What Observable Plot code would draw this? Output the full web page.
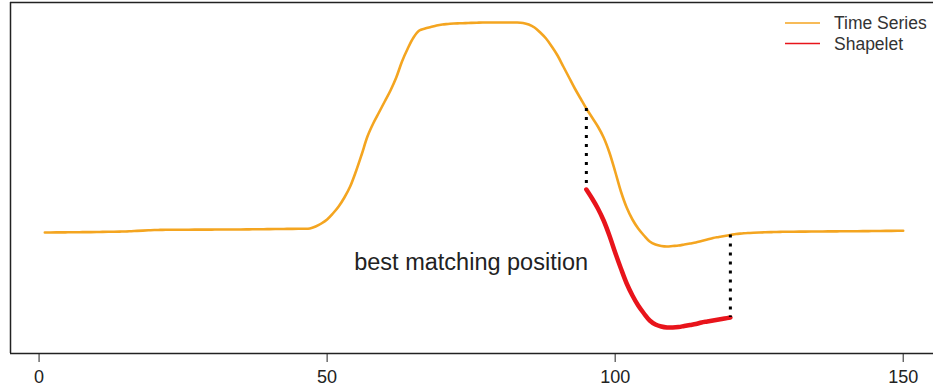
<!DOCTYPE html>
<html><head><meta charset="utf-8">
<script src="https://cdn.jsdelivr.net/npm/d3@7"></script>
<script src="https://cdn.jsdelivr.net/npm/@observablehq/plot@0.6"></script>
<style>
html,body{margin:0;padding:0;background:#fff;overflow:hidden}
#wrap{position:relative;width:933px;height:388px;font-family:"Liberation Sans",Arial,sans-serif}
#legend{position:absolute;left:780px;top:10px}
</style></head><body><div id="wrap"></div>
<script>
// Time series values for t = 1..150
const seriesValues = [
  0.000,0.000,0.001,0.001,0.002,0.003,0.003,0.004,0.004,0.005,
  0.006,0.007,0.008,0.009,0.010,0.013,0.016,0.019,0.022,0.025,
  0.026,0.027,0.027,0.028,0.028,0.028,0.029,0.029,0.029,0.029,
  0.030,0.030,0.030,0.030,0.030,0.031,0.032,0.033,0.033,0.034,
  0.035,0.035,0.036,0.036,0.037,0.037,0.040,0.06,0.09,0.13,
  0.19,0.26,0.35,0.46,0.61,0.78,0.96,1.09,1.20,1.31,
  1.42,1.55,1.71,1.84,1.95,2.02,2.04,2.055,2.07,2.08,
  2.085,2.09,2.092,2.094,2.096,2.098,2.10,2.10,2.10,2.10,
  2.10,2.10,2.10,2.095,2.08,2.05,2.00,1.94,1.86,1.77,
  1.66,1.55,1.44,1.34,1.24,1.15,1.06,0.95,0.80,0.61,
  0.41,0.25,0.13,0.04,-0.03,-0.09,-0.12,-0.135,-0.14,-0.135,
  -0.13,-0.12,-0.11,-0.10,-0.085,-0.07,-0.055,-0.045,-0.035,-0.025,
  -0.015,-0.01,-0.005,-0.002,0.000,0.002,0.004,0.005,0.007,0.008,
  0.008,0.009,0.009,0.010,0.010,0.010,0.011,0.011,0.012,0.012,
  0.013,0.013,0.014,0.014,0.015,0.015,0.016,0.016,0.017,0.017
];
const seriesStart = 1;
// Shapelet values for t = 95..120
const shapeletStart = 95;
const shapeletValues = [
  0.43,0.34,0.24,0.12,-0.03,-0.20,-0.36,-0.51,-0.63,-0.73,
  -0.81,-0.88,-0.92,-0.94,-0.95,-0.95,-0.945,-0.935,-0.925,-0.915,
  -0.90,-0.89,-0.88,-0.87,-0.86,-0.85
];
const xTicks = [0, 50, 100, 150];
const xDomain = [-4.96, 155.26];
const yDomain = [-1.21, 2.30];
const legendLabels = ["Time Series", "Shapelet"];
const legendColors = ["#f4a520", "#e8141b"];
const annotationLabel = ["best matching position"];
const annotationX = [75];
const annotationY = [-0.30];

const series = seriesValues.map((v, i) => ({t: seriesStart + i, v}));
const shapelet = shapeletValues.map((v, i) => ({t: shapeletStart + i, v}));
const sEnd = shapeletStart + shapeletValues.length - 1;
const connectors = [shapeletStart, sEnd].map(t => ({
  t,
  top: seriesValues[t - seriesStart],
  bottom: shapeletValues[t - shapeletStart]
}));
const notes = annotationLabel.map((label, i) => ({label, x: annotationX[i], y: annotationY[i]}));

const marks = [
  Plot.ruleX([xDomain[0]], {stroke: "#222", strokeWidth: 1.5}),
  Plot.ruleY(yDomain, {stroke: "#222", strokeWidth: 1.5}),
  Plot.line(series, {x: "t", y: "v", stroke: legendColors[0], strokeWidth: 2.6, curve: "catmull-rom"}),
  Plot.line(shapelet, {x: "t", y: "v", stroke: legendColors[1], strokeWidth: 4.5, curve: "catmull-rom"}),
  Plot.ruleX(connectors, {x: "t", y1: "top", y2: "bottom", stroke: "black", strokeWidth: 3, strokeDasharray: "3,6"}),
  Plot.text(notes, {x: "x", y: "y", text: "label", fontSize: 23.5, fill: "#222", textAnchor: "middle"})
];
const hasAxisMark = typeof Plot.axisX === "function";
if (hasAxisMark) marks.push(Plot.axisX({ticks: xTicks, tickSize: 9, tickPadding: 8, tickFormat: d => String(d), fontSize: 18, stroke: "#222", fill: "#222", label: null}));

const chart = Plot.plot({
  width: 933,
  height: 388,
  marginLeft: 10,
  marginRight: 0,
  marginTop: 2,
  marginBottom: 35,
  style: {fontFamily: '"Liberation Sans", Arial, sans-serif', fontSize: "18px", color: "#222", background: "#fff"},
  x: hasAxisMark ? {domain: xDomain, axis: null} : {domain: xDomain, ticks: xTicks, tickSize: 9, tickPadding: 8, label: null, tickFormat: d => String(d)},
  y: {domain: yDomain, axis: null},
  marks
});
const wrap = document.getElementById("wrap");
wrap.appendChild(chart);
// enforce tick label size
const tickStrings = xTicks.map(String);
d3.select(chart).selectAll("text")
  .filter(function() { return tickStrings.includes(this.textContent); })
  .attr("font-size", 18).style("font-size", "18px");

// Legend inside the plot area (top right)
const leg = d3.select(wrap).append("svg").attr("id", "legend").attr("width", 153).attr("height", 50);
legendLabels.forEach((lab, i) => {
  const y = 13 + i * 20.5;
  leg.append("line").attr("x1", 5).attr("x2", 40).attr("y1", y).attr("y2", y)
    .attr("stroke", legendColors[i]).attr("stroke-width", 1.6);
  leg.append("text").attr("x", 54).attr("y", y + 6.3).text(lab)
    .attr("font-size", "17.5px").attr("fill", "#333")
    .attr("font-family", '"Liberation Sans", Arial, sans-serif');
});
</script></body></html>
